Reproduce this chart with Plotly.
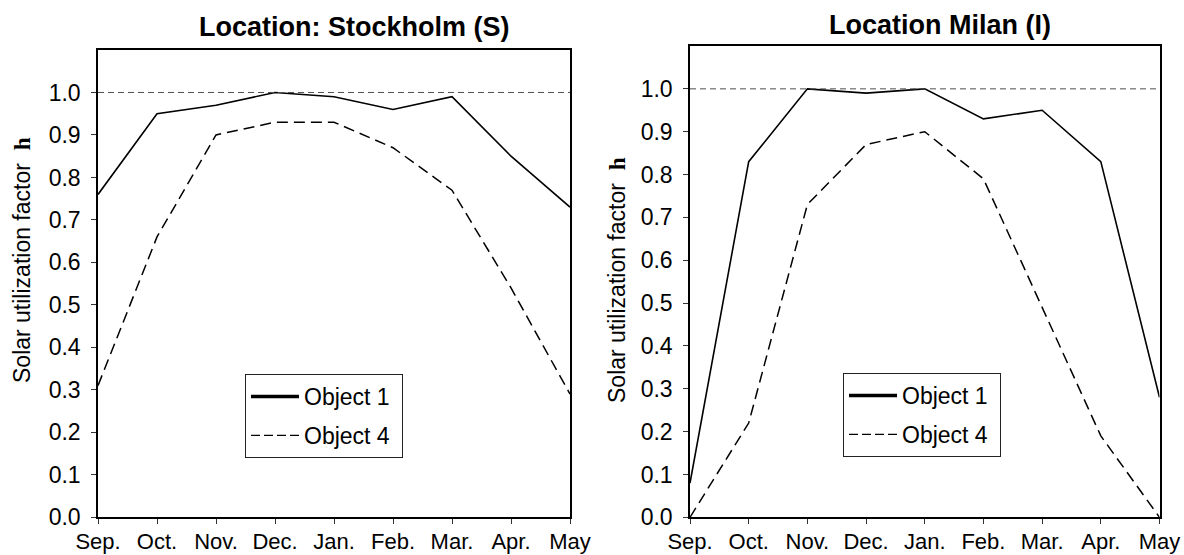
import plotly.graph_objects as go

months = ["Sep.", "Oct.", "Nov.", "Dec.", "Jan.", "Feb.", "Mar.", "Apr.", "May"]
stockholm_obj1 = [0.76, 0.95, 0.97, 1.00, 0.99, 0.96, 0.99, 0.85, 0.73]
stockholm_obj4 = [0.31, 0.66, 0.90, 0.93, 0.93, 0.87, 0.77, 0.54, 0.29]
milan_obj1 = [0.08, 0.83, 1.00, 0.99, 1.00, 0.93, 0.95, 0.83, 0.28]
milan_obj4 = [0.00, 0.22, 0.73, 0.87, 0.90, 0.79, 0.49, 0.19, 0.00]
titles = ["Location: Stockholm (S)", "Location Milan (I)"]
y_title = "Solar utilization factor"
y_symbol = "h"
y_ticks = [0.0, 0.1, 0.2, 0.3, 0.4, 0.5, 0.6, 0.7, 0.8, 0.9, 1.0]
reference_level = 1.0

W, H = 1184, 555
FONT = "Liberation Sans, Arial, sans-serif"
SERIF = "Liberation Serif, Times New Roman, serif"
x_idx = list(range(len(months)))


def px(xw):
    return xw / W


def py(yw):
    return (H - yw) / H


fig = go.Figure()

panels = [
    (stockholm_obj1, stockholm_obj4, "x", "y", "legend"),
    (milan_obj1, milan_obj4, "x2", "y2", "legend2"),
]
for o1, o4, xa, ya, lg in panels:
    fig.add_trace(go.Scatter(x=x_idx, y=o1, mode="lines", xaxis=xa, yaxis=ya,
                             line=dict(color="black", width=1.6), showlegend=False))
    fig.add_trace(go.Scatter(x=x_idx, y=o4, mode="lines", xaxis=xa, yaxis=ya,
                             line=dict(color="black", width=1.5, dash="11px,6px"), showlegend=False))
    # legend entries
    fig.add_trace(go.Scatter(x=[None], y=[None], mode="lines", xaxis=xa, yaxis=ya,
                             name="Object 1\u00a0", legend=lg, legendgroup=lg + "a",
                             line=dict(color="black", width=3.5)))
    fig.add_trace(go.Scatter(x=[None], y=[None], mode="lines", xaxis=xa, yaxis=ya,
                             name="Object 4\u00a0", legend=lg, legendgroup=lg + "b",
                             line=dict(color="black", width=1.2, dash="9px,4px")))
    fig.add_shape(type="line", xref=xa, yref=ya, x0=0, x1=len(months) - 1,
                  y0=reference_level, y1=reference_level,
                  line=dict(color="#505050", width=1, dash="6px,4px"))

common_x = dict(range=[0, len(months) - 1], tickvals=x_idx, ticktext=months,
                showline=True, linecolor="black", linewidth=1.5, mirror=True,
                ticks="outside", ticklen=5, tickcolor="#333333", tickwidth=1.2,
                showgrid=False, zeroline=False, automargin=False,
                ticklabelstandoff=-1,
                tickfont=dict(family=FONT, size=22, color="black"))
common_y = dict(range=[0, 1.1], tickvals=y_ticks, tickformat=".1f",
                showline=True, linecolor="black", linewidth=1.5, mirror=True,
                ticks="outside", ticklen=5, tickcolor="#333333", tickwidth=1.2,
                showgrid=False, zeroline=False, automargin=False,
                ticklabelstandoff=6,
                tickfont=dict(family=FONT, size=23, color="black"))

legend_common = dict(bgcolor="white", bordercolor="#222222", borderwidth=1,
                     font=dict(family=FONT, size=23, color="black"),
                     tracegroupgap=6, xanchor="left", yanchor="top",
                     itemwidth=48)

ytitle_text = (y_title + "  <span style='font-family:" + SERIF + "'><b>" + y_symbol + "</b></span>")

fig.update_layout(
    width=W, height=H,
    margin=dict(l=0, r=0, t=0, b=0, autoexpand=False),
    paper_bgcolor="white", plot_bgcolor="white",
    hovermode=False,
    xaxis=dict(domain=[px(98), px(570)], anchor="y", **common_x),
    yaxis=dict(domain=[py(517.3), py(50)], anchor="x", **common_y),
    xaxis2=dict(domain=[px(690), px(1159.5)], anchor="y2", **common_x),
    yaxis2=dict(domain=[py(517.3), py(46)], anchor="x2", **common_y),
    legend=dict(x=px(245), y=py(374), **legend_common),
    legend2=dict(x=px(843), y=py(373), **legend_common),
    annotations=[
        dict(text="<b>" + titles[0] + "</b>", x=px(354), y=py(27),
             xref="paper", yref="paper", showarrow=False, xanchor="center", yanchor="middle",
             font=dict(family=FONT, size=27, color="black")),
        dict(text="<b>" + titles[1] + "</b>", x=px(940), y=py(25),
             xref="paper", yref="paper", showarrow=False, xanchor="center", yanchor="middle",
             font=dict(family=FONT, size=27, color="black")),
        dict(text=ytitle_text, x=px(22), y=py(260), textangle=-90,
             xref="paper", yref="paper", showarrow=False, xanchor="center", yanchor="middle",
             font=dict(family=FONT, size=23, color="black")),
        dict(text=ytitle_text, x=px(617), y=py(280), textangle=-90,
             xref="paper", yref="paper", showarrow=False, xanchor="center", yanchor="middle",
             font=dict(family=FONT, size=23, color="black")),
    ],
)

fig.write_html(
    "out.html",
    config={"displayModeBar": False},
    post_script="document.body.style.margin='0';document.body.style.overflow='hidden';",
)
